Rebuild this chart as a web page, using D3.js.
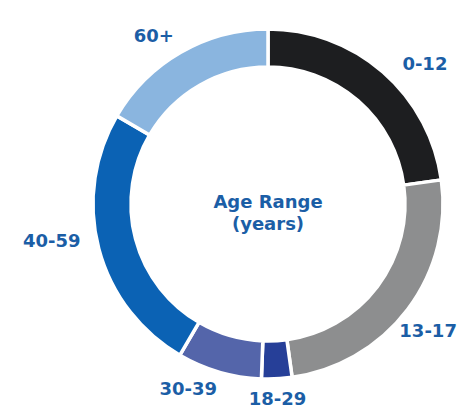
<!DOCTYPE html>
<html>
<head>
<meta charset="utf-8">
<script src="https://cdnjs.cloudflare.com/ajax/libs/d3/7.8.5/d3.min.js"></script>
<style>
  body { margin: 0; background: #fff; }
  text { font-family: "DejaVu Sans", sans-serif; font-weight: 700; }
</style>
</head>
<body>
<div id="chart"></div>
<script>
const ageGroups = ["0-12", "13-17", "18-29", "30-39", "40-59", "60+"];
const shares = [22.8, 25, 2.8, 7.8, 25, 16.6];
const sliceColors = ["#1d1e20", "#8d8e8f", "#263f98", "#5465aa", "#0b62b4", "#8ab5df"];

const width = 459;
const height = 409;
const cx = 268, cy = 204;
const outerR = 175, innerR = 137;
const labelColor = "#1b5ea6";

// label nudges from the arc centroid (layout only)
const labelNudge = { "0-12": [21, 16], "13-17": [-5, 2], "18-29": [-1, -12], "30-39": [-22, -14], "40-59": [-16, -16], "60+": [-11, 11] };

const data = ageGroups.map((g, i) => ({ group: g, value: shares[i] }));

const svg = d3.select("#chart")
  .append("svg")
    .attr("width", width)
    .attr("height", height)
  .append("g")
    .attr("transform", `translate(${cx},${cy})`);

const color = d3.scaleOrdinal()
  .domain(ageGroups)
  .range(sliceColors);

const pie = d3.pie()
  .value(d => d.value)
  .sort(null);

const arc = d3.arc()
  .innerRadius(innerR)
  .outerRadius(outerR);

const labelArc = d3.arc()
  .innerRadius(207)
  .outerRadius(207);

const arcs = pie(data);

svg.selectAll("path.slice")
  .data(arcs)
  .join("path")
    .attr("class", "slice")
    .attr("d", arc)
    .attr("fill", d => color(d.data.group))
    .attr("stroke", "#fff")
    .attr("stroke-width", 3.5);

svg.selectAll("text.lbl")
  .data(arcs)
  .join("text")
    .attr("class", "lbl")
    .attr("x", d => labelArc.centroid(d)[0] + labelNudge[d.data.group][0])
    .attr("y", d => labelArc.centroid(d)[1] + labelNudge[d.data.group][1])
    .attr("dy", "0.36em")
    .attr("text-anchor", "middle")
    .style("font-size", "18px")
    .style("fill", labelColor)
    .text(d => d.data.group);

// centre title
svg.append("text")
  .attr("x", 0)
  .attr("y", 4)
  .attr("text-anchor", "middle")
  .style("font-size", "18px")
  .style("fill", labelColor)
  .text("Age Range");

svg.append("text")
  .attr("x", 0)
  .attr("y", 26)
  .attr("text-anchor", "middle")
  .style("font-size", "18px")
  .style("fill", labelColor)
  .text("(years)");
</script>
</body>
</html>
